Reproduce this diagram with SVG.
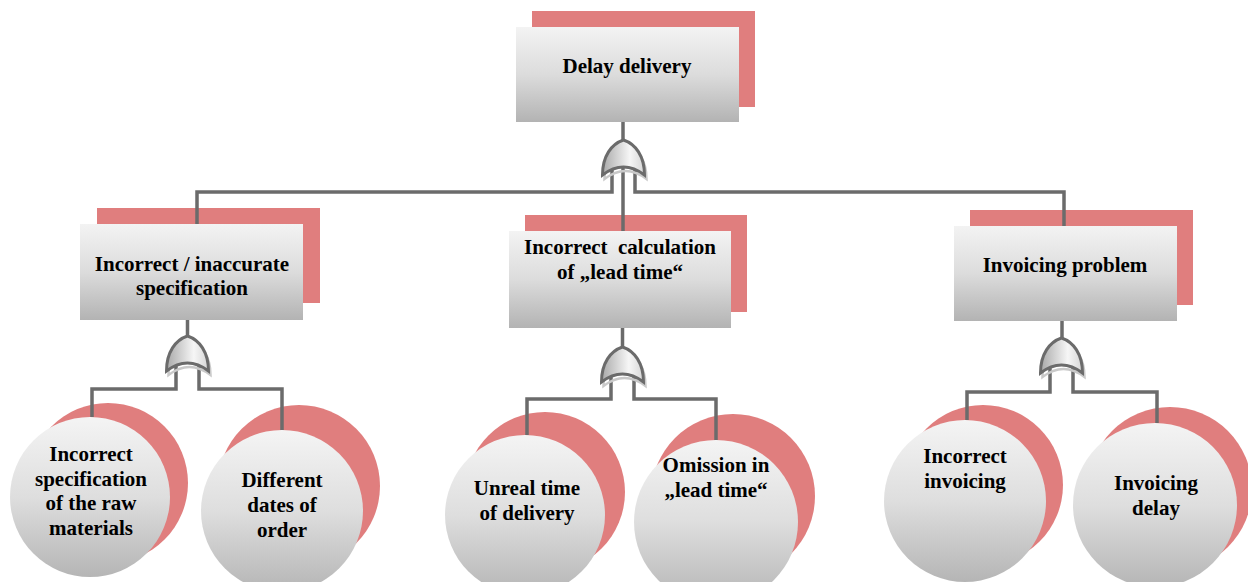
<svg xmlns="http://www.w3.org/2000/svg" width="1248" height="582" viewBox="0 0 1248 582">
<style>
.sh{fill:#e07e7e}
.box{fill:url(#gBox)}
.cir{fill:url(#gCir)}
.t{font-family:"Liberation Serif","Times New Roman",serif;font-weight:bold;font-size:21px;fill:#000;text-anchor:middle}
.ln{fill:none;stroke:#6b6b6b;stroke-width:3.5;stroke-linejoin:miter}
.gate{fill:url(#gGate);stroke:#6b6b6b;stroke-width:3}
.gsh{fill:none;stroke:#c9c9c9;stroke-width:2.5}
</style>
<defs>
<linearGradient id="gBox" x1="0" y1="0" x2="0" y2="1">
<stop offset="0" stop-color="#f3f3f3"/><stop offset="0.5" stop-color="#dcdcdc"/><stop offset="1" stop-color="#b3b3b3"/>
</linearGradient>
<linearGradient id="gCir" x1="0" y1="0" x2="0" y2="1">
<stop offset="0" stop-color="#f4f4f4"/><stop offset="0.5" stop-color="#dedede"/><stop offset="1" stop-color="#b5b5b5"/>
</linearGradient>
<linearGradient id="gGate" x1="0" y1="0" x2="1" y2="0">
<stop offset="0" stop-color="#a9a9a9"/><stop offset="0.65" stop-color="#f6f6f6"/><stop offset="1" stop-color="#d6d6d6"/>
</linearGradient>
<path id="orShape" d="M-21,35 C-21,16 -12,4 0,0 C12,4 21,16 21,35 Q0,19 -21,35 Z"/>
</defs>

<g id="n-delay-delivery">
<rect class="sh" x="532" y="11" width="223" height="96"/>
<rect class="box" x="516" y="27" width="223" height="95"/>
<text class="t" x="627" y="73">Delay delivery</text>
</g>

<g id="n-incorrect-specification">
<rect class="sh" x="97" y="208" width="223" height="95"/>
<rect class="box" x="80" y="224" width="223" height="96"/>
<text class="t" x="192" y="271">Incorrect / inaccurate</text>
<text class="t" x="192" y="295">specification</text>
</g>

<g id="n-lead-time">
<rect class="sh" x="525" y="215" width="222" height="97"/>
<rect class="box" x="509" y="231" width="222" height="97"/>
<text class="t" x="620" y="254">Incorrect&#160; calculation</text>
<text class="t" x="620" y="279">of „lead time“</text>
</g>

<g id="n-invoicing-problem">
<rect class="sh" x="970" y="210" width="223" height="95"/>
<rect class="box" x="954" y="226" width="223" height="95"/>
<text class="t" x="1065" y="272">Invoicing problem</text>
</g>

<g id="n-raw-materials">
<circle class="sh" cx="108" cy="483" r="80"/>
<circle class="cir" cx="90" cy="497" r="80"/>
<text class="t" x="91" y="461">Incorrect</text>
<text class="t" x="91" y="486">specification</text>
<text class="t" x="91" y="510">of the raw</text>
<text class="t" x="91" y="535">materials</text>
</g>

<g id="n-different-dates">
<circle class="sh" cx="299" cy="486" r="81"/>
<circle class="cir" cx="282" cy="511" r="81"/>
<text class="t" x="282" y="487">Different</text>
<text class="t" x="282" y="512">dates of</text>
<text class="t" x="282" y="537">order</text>
</g>

<g id="n-unreal-time">
<circle class="sh" cx="545" cy="492" r="80"/>
<circle class="cir" cx="525" cy="515" r="80"/>
<text class="t" x="527" y="495">Unreal time</text>
<text class="t" x="527" y="520">of delivery</text>
</g>

<g id="n-omission">
<circle class="sh" cx="733" cy="496" r="82"/>
<circle class="cir" cx="716" cy="522" r="82"/>
<text class="t" x="716" y="472">Omission in</text>
<text class="t" x="716" y="497">„lead time“</text>
</g>

<g id="n-incorrect-invoicing">
<circle class="sh" cx="983" cy="485" r="80"/>
<circle class="cir" cx="965" cy="501" r="81"/>
<text class="t" x="965" y="463">Incorrect</text>
<text class="t" x="965" y="488">invoicing</text>
</g>

<g id="n-invoicing-delay">
<circle class="sh" cx="1170" cy="489" r="82"/>
<circle class="cir" cx="1155" cy="505" r="82"/>
<text class="t" x="1156" y="490">Invoicing</text>
<text class="t" x="1156" y="515">delay</text>
</g>

<g id="connectors">
<path class="ln" d="M623,122 V142"/>
<path class="ln" d="M623,166 V231"/>
<path class="ln" d="M612,166 V192 H197 V224"/>
<path class="ln" d="M635,166 V192 H1064 V226"/>
<path class="ln" d="M187.5,320 V338"/>
<path class="ln" d="M176,362 V389 H92 V417"/>
<path class="ln" d="M199,362 V389 H282 V430"/>
<path class="ln" d="M622.5,328 V349"/>
<path class="ln" d="M611,373 V399 H527 V435"/>
<path class="ln" d="M634,373 V399 H716 V440"/>
<path class="ln" d="M1062,321 V340"/>
<path class="ln" d="M1050,364 V392 H967 V420"/>
<path class="ln" d="M1073,364 V392 H1157 V423"/>
</g>

<g id="gate-top" transform="translate(623.5,140)">
<use href="#orShape" class="gsh" transform="translate(2,4)"/>
<use href="#orShape" class="gate"/>
</g>
<g id="gate-left" transform="translate(187.5,336)">
<use href="#orShape" class="gsh" transform="translate(2,4)"/>
<use href="#orShape" class="gate"/>
</g>
<g id="gate-middle" transform="translate(622.5,347)">
<use href="#orShape" class="gsh" transform="translate(2,4)"/>
<use href="#orShape" class="gate"/>
</g>
<g id="gate-right" transform="translate(1061.5,338)">
<use href="#orShape" class="gsh" transform="translate(2,4)"/>
<use href="#orShape" class="gate"/>
</g>
</svg>
